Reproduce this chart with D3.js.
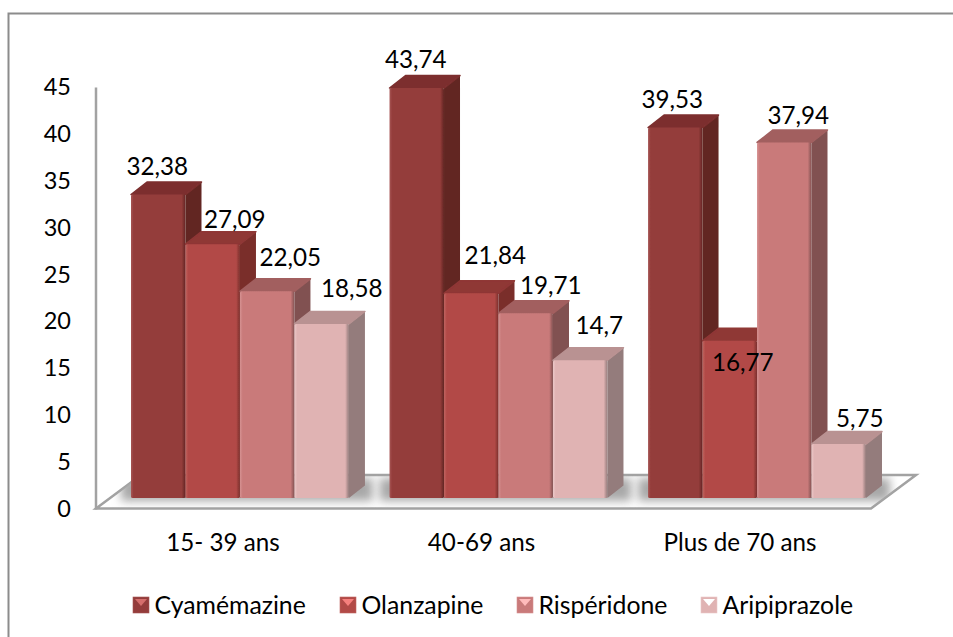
<!DOCTYPE html>
<html lang="fr">
<head>
  <meta charset="UTF-8">
  <title>Antipsychotiques par tranche d'âge</title>
  <script src="https://d3js.org/d3.v7.min.js"></script>
  <style>
    html, body { margin: 0; padding: 0; background: #fff; }
    svg { display: block; }
    text { font-family: Lato, "Open Sans", sans-serif; fill: #000; }
    .tick text { font-size: 23.5px; }
    .cat, .val { font-size: 24.2px; }
    .leg { font-size: 24.8px; }
  </style>
</head>
<body>
  <script>
    const categories = ["15- 39 ans", "40-69 ans", "Plus de 70 ans"];
    const seriesNames = ["Cyamémazine", "Olanzapine", "Rispéridone", "Aripiprazole"];
    const cyamemazine = [32.38, 43.74, 39.53];
    const olanzapine = [27.09, 21.84, 16.77];
    const risperidone = [22.05, 19.71, 37.94];
    const aripiprazole = [18.58, 14.7, 5.75];
    const seriesValues = [cyamemazine, olanzapine, risperidone, aripiprazole];
    const yTicks = [0, 5, 10, 15, 20, 25, 30, 35, 40, 45];

    // front, top, side, light edge
    const colours = [
      ["#943c3b", "#7c2f2e", "#622623", "#a65654"],
      ["#b24a47", "#8f3735", "#7a2f2c", "#c06461"],
      ["#c97a7a", "#a25f5f", "#815151", "#d69292"],
      ["#e0b3b3", "#b99292", "#947b7b", "#ecc8c8"]
    ];

    // label shifts from the bar top centre [dx, dy], read by eye
    const labelShift = [
      [[-1, -28], [-1, -29], [-3, -28]],
      [[22, -25], [24, -38], [13, 22]],
      [[23, -34], [25, -28], [14, -27]],
      [[30, -35], [19, -35], [21, -26]]
    ];

    const width = 953, height = 637;
    const depthX = 16, depthY = 12.5;
    const baseY = 498;

    const svg = d3.select("body").append("svg").attr("width", width).attr("height", height);
    const defs = svg.append("defs");

    const blur = defs.append("filter").attr("id", "floorBlur")
      .attr("x", "-20%").attr("y", "-50%").attr("width", "140%").attr("height", "200%");
    blur.append("feGaussianBlur").attr("stdDeviation", 5);

    const soft = defs.append("filter").attr("id", "soft")
      .attr("x", "-5%").attr("y", "-5%").attr("width", "110%").attr("height", "110%");
    soft.append("feGaussianBlur").attr("stdDeviation", 0.4);

    colours.forEach((c, i) => {
      const g = defs.append("linearGradient").attr("id", `front-${i}`);
      [[0, c[3]], [0.05, c[0]], [0.93, c[0]], [1, c[2]]].forEach(s =>
        g.append("stop").attr("offset", s[0]).attr("stop-color", s[1]));
    });

    // outer frame, only top and left are drawn in the source
    svg.append("path")
      .attr("d", d3.line()([[8.5, height], [8.5, 13.5], [width, 13.5]]))
      .attr("fill", "none").attr("stroke", "#8c8c8c").attr("stroke-width", 2);

    const yFront = d3.scaleLinear().domain([0, 45]).range([509, 87]);
    const y = d3.scaleLinear().domain([0, 45]).range([baseY, baseY - 421.7]);
    const x = d3.scaleBand().domain(categories).range([131, 866]).paddingInner(0.157);
    const xInner = d3.scaleBand().domain(seriesNames).range([0, x.bandwidth()]);

    // floor
    const floor = [[96, 508.5], [871, 508.5], [916, 475], [141, 475]];
    svg.append("polygon")
      .attr("points", floor.join(" "))
      .attr("fill", "#fff").attr("stroke", "#a2a2a2").attr("stroke-width", 2.5);

    const clip = defs.append("clipPath").attr("id", "floorClip");
    clip.append("polygon").attr("points", floor.join(" "));

    svg.append("g").attr("clip-path", "url(#floorClip)")
      .selectAll("rect")
      .data(categories)
      .join("rect")
      .attr("x", d => x(d) - 10)
      .attr("y", 478)
      .attr("width", x.bandwidth() + 34)
      .attr("height", 23)
      .attr("fill", "#a8a8a8")
      .attr("filter", "url(#floorBlur)");

    // value axis
    const axis = svg.append("g")
      .attr("transform", "translate(95.5,0)")
      .call(d3.axisLeft(yFront).tickValues(yTicks).tickSize(0).tickPadding(24.5).tickFormat(d3.format("d")));
    axis.select(".domain").attr("stroke", "#a2a2a2").attr("stroke-width", 2.5);

    // bars, left to right so the next front hides the previous side
    const bars = svg.append("g").attr("filter", "url(#soft)");
    const rows = [];
    categories.forEach((cat, ci) => {
      seriesNames.forEach((name, si) => {
        rows.push({ cat, ci, name, si, value: seriesValues[si][ci] });
      });
    });

    const bar = bars.selectAll("g").data(rows).join("g");

    bar.append("polygon")
      .attr("fill", d => colours[d.si][2])
      .attr("points", d => {
        const r = x(d.cat) + xInner(d.name) + xInner.bandwidth();
        const t = y(d.value);
        return [[r, t], [r + depthX, t - depthY], [r + depthX, baseY - depthY], [r, baseY]].join(" ");
      });

    bar.append("polygon")
      .attr("fill", d => colours[d.si][1])
      .attr("stroke", d => colours[d.si][1])
      .attr("stroke-width", 1.5)
      .attr("stroke-linejoin", "round")
      .attr("points", d => {
        const l = x(d.cat) + xInner(d.name);
        const r = l + xInner.bandwidth();
        const t = y(d.value);
        return [[l, t], [l + depthX, t - depthY], [r + depthX, t - depthY], [r, t]].join(" ");
      });

    bar.append("rect")
      .attr("x", d => x(d.cat) + xInner(d.name))
      .attr("y", d => y(d.value))
      .attr("width", xInner.bandwidth())
      .attr("height", d => baseY - y(d.value))
      .attr("rx", 1.5)
      .attr("fill", d => `url(#front-${d.si})`);

    // value labels
    svg.append("g").selectAll("text")
      .data(rows)
      .join("text")
      .attr("class", "val")
      .attr("text-anchor", "middle")
      .attr("dy", "0.35em")
      .attr("x", d => x(d.cat) + xInner(d.name) + xInner.bandwidth() / 2 + labelShift[d.si][d.ci][0])
      .attr("y", d => y(d.value) + labelShift[d.si][d.ci][1])
      .text(d => String(d.value).replace(".", ","));

    // category labels
    svg.append("g").selectAll("text")
      .data(categories)
      .join("text")
      .attr("class", "cat")
      .attr("text-anchor", "middle")
      .attr("dy", "0.35em")
      .attr("x", d => x(d) + x.bandwidth() / 2 - 17)
      .attr("y", 543)
      .text(d => d);

    // legend
    const legendX = d3.scaleOrdinal().domain(seriesNames).range([133, 340, 517, 701]);
    const legend = svg.append("g").selectAll("g")
      .data(seriesNames)
      .join("g")
      .attr("transform", d => `translate(${legendX(d)},597)`);

    legend.append("rect")
      .attr("width", 16).attr("height", 16)
      .attr("fill", (d, i) => colours[i][0])
      .attr("stroke", (d, i) => colours[i][3]).attr("stroke-width", 0.6);
    legend.append("polygon")
      .attr("points", "2,2 14,2 8,9")
      .attr("fill", (d, i) => d3.color(colours[i][3]).brighter(0.7));
    legend.append("text")
      .attr("class", "leg")
      .attr("x", 21.5)
      .attr("y", 8)
      .attr("dy", "0.35em")
      .text(d => d);
  </script>
</body>
</html>
